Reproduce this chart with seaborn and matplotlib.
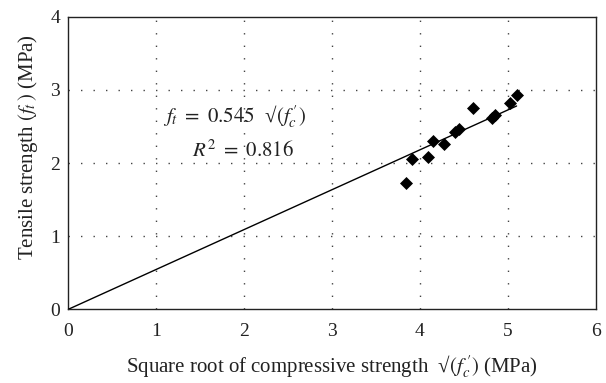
import matplotlib
matplotlib.use("Agg")
import matplotlib.pyplot as plt
import seaborn as sns
import numpy as np
import pandas as pd

# Data
sqrt_fc = [3.84, 3.91, 4.09, 4.15, 4.27, 4.40, 4.45, 4.60, 4.82, 4.85, 5.03, 5.11]
ft = [1.72, 2.05, 2.08, 2.30, 2.26, 2.42, 2.46, 2.75, 2.61, 2.66, 2.82, 2.93]
slope = 0.545
r2 = 0.816
fit_x = [0.0, 5.1]
x_ticks = [0, 1, 2, 3, 4, 5, 6]
y_ticks = [0, 1, 2, 3, 4]

sns.set_theme(style="white")
plt.rcParams["font.family"] = ["Liberation Serif", "DejaVu Serif"]
plt.rcParams["mathtext.fontset"] = "stix"

df = pd.DataFrame({"x": sqrt_fc, "y": ft})
fit = pd.DataFrame({"x": fit_x, "y": [slope * v for v in fit_x]})

fig = plt.figure(figsize=(6.06, 3.83), dpi=100)
ax = fig.add_axes([0.1127, 0.1924, 0.8703, 0.764])

sns.lineplot(data=fit, x="x", y="y", ax=ax, color="black", linewidth=1.0, zorder=3)
sns.scatterplot(data=df, x="x", y="y", ax=ax, marker="D", s=44, color="black",
                edgecolor="black", linewidth=0, zorder=4)

ax.set_xlim(0, 6)
ax.set_ylim(0, 4)
ax.set_xticks(x_ticks)
ax.set_yticks(y_ticks)
ax.set_xticklabels([str(v) for v in x_ticks])
ax.set_yticklabels([str(v) for v in y_ticks])
ax.tick_params(axis="both", length=0, labelsize=14, colors="#222222")
ax.tick_params(axis="x", pad=10)
ax.tick_params(axis="y", pad=6)

for v in x_ticks[1:-1]:
    ax.axvline(v, color="#444444", linestyle=(0, (1, 8)), linewidth=1.0, zorder=1)
for v in y_ticks[1:-1]:
    ax.axhline(v, color="#444444", linestyle=(0, (1, 8)), linewidth=1.0, zorder=1)

for s in ax.spines.values():
    s.set_visible(True)
    s.set_color("#222222")
    s.set_linewidth(1.0)

SQRT = "\u221a"
ax.set_xlabel("Square root of compressive strength  " + SQRT + r"$(f_c^{\,\prime})$ (MPa)",
              fontsize=15, color="#222222")
ax.set_ylabel(r"Tensile strength $(f_t\,)$ (MPa)", fontsize=15, color="#222222")
ax.xaxis.label.set_va("center")
ax.yaxis.label.set_va("center")
ax.xaxis.set_label_coords(0.5, -0.195)
ax.yaxis.set_label_coords(-0.0764, 0.555)

ax.text(1.077, 2.635, r"$f_t\ =\ 0.545$  " + SQRT + r"$(f_c^{\,\prime})$", fontsize=15,
        va="center", ha="left", color="#222222")
ax.text(1.404, 2.156, r"$R^2\ =\ " + f"{r2:.3f}" + r"$", fontsize=15,
        va="center", ha="left", color="#222222")

fig.savefig("out.png", dpi=100)
